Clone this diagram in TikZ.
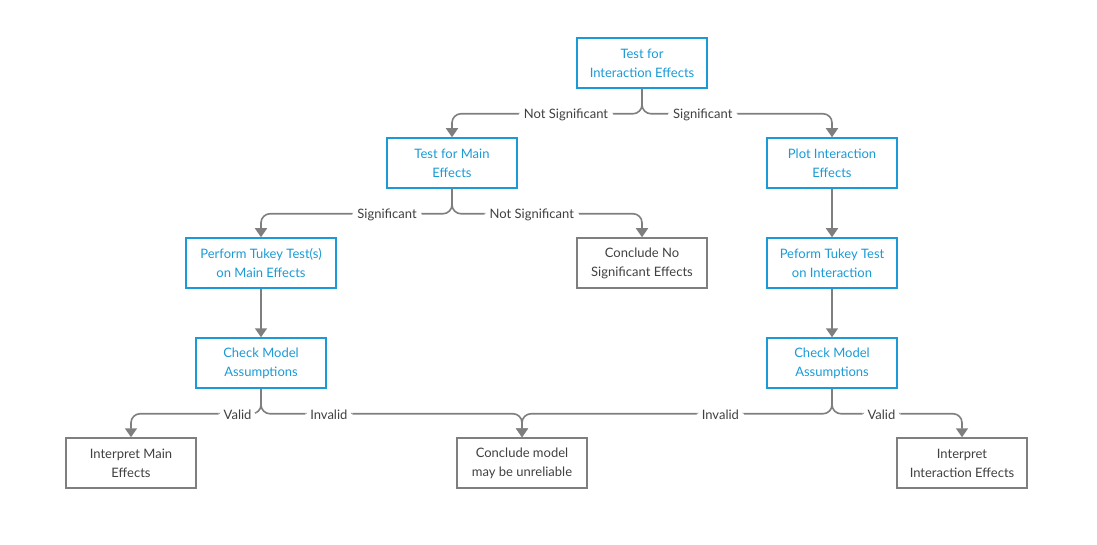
\documentclass[tikz,border=0pt]{standalone}
\usepackage{fontspec}
\setmainfont{Lato}
\usetikzlibrary{arrows.meta, positioning}

\definecolor{stepblue}{HTML}{1A9AD6}
\definecolor{linegray}{HTML}{7F7F7F}
\definecolor{textgray}{HTML}{404040}

\tikzset{
  box/.style={draw, line width=1.5pt, minimum width=130pt, minimum height=50pt,
    align=center, font=\fontsize{13}{19}\selectfont, inner sep=2pt, yshift=-1pt},
  bluebox/.style={box, draw=stepblue, text=stepblue},
  graybox/.style={box, draw=linegray, text=textgray},
  conn/.style={draw=linegray, line width=1.6pt, rounded corners=9pt,
    -{Triangle[width=12pt,length=9pt]}},
  lbl/.style={fill=white, text=textgray, font=\fontsize{13}{15}\selectfont,
    inner xsep=5pt, inner ysep=1pt, yshift=-1pt}
}

\begin{document}
\begin{tikzpicture}[x=1pt, y=-1pt]
  \useasboundingbox (0,0) rectangle (1097,545);

  % decision tree
  \node[bluebox] (inter) at (642,62) {Test for\\Interaction Effects};
  \node[bluebox] (main) at (452,162) {Test for Main\\Effects};
  \node[bluebox] (plot) at (832,162) {Plot Interaction\\Effects};
  \node[bluebox, minimum width=150pt] (tukeymain) at (261,262) {Perform Tukey Test(s)\\on Main Effects};
  \node[graybox] (noeff) at (642,262) {Conclude No\\Significant Effects};
  \node[bluebox] (tukeyint) at (832,262) {Peform Tukey Test\\on Interaction};
  \node[bluebox] (checkL) at (261,362) {Check Model\\Assumptions};
  \node[bluebox] (checkR) at (832,362) {Check Model\\Assumptions};
  \node[graybox] (interpmain) at (131,462) {Interpret Main\\Effects};
  \node[graybox] (unrel) at (522,462) {Conclude model\\may be unreliable};
  \node[graybox] (interpint) at (962,462) {Interpret\\Interaction Effects};

  \draw[conn] (inter.south) -- ++(0,25) -| node[pos=0.2, lbl] {Not Significant} (main.north);
  \draw[conn] (inter.south) -- ++(0,25) -| node[pos=0.16, lbl] {Significant} (plot.north);

  \draw[conn] (main.south) -- ++(0,25) -| node[pos=0.17, lbl] {Significant} (tukeymain.north);
  \draw[conn] (main.south) -- ++(0,25) -| node[pos=0.21, lbl] {Not Significant} (noeff.north);

  \draw[conn] (plot) -- (tukeyint);
  \draw[conn] (tukeymain) -- (checkL);
  \draw[conn] (tukeyint) -- (checkR);

  \draw[conn] (checkL.south) -- ++(0,25) -| node[pos=0.09, lbl] {Valid} (interpmain.north);
  \draw[conn] (checkL.south) -- ++(0,25) -| node[pos=0.13, lbl] {Invalid} (unrel.north);
  \draw[conn] (checkR.south) -- ++(0,25) -| node[pos=0.18, lbl] {Invalid} (unrel.north);
  \draw[conn] (checkR.south) -- ++(0,25) -| node[pos=0.19, lbl] {Valid} (interpint.north);
\end{tikzpicture}
\end{document}
